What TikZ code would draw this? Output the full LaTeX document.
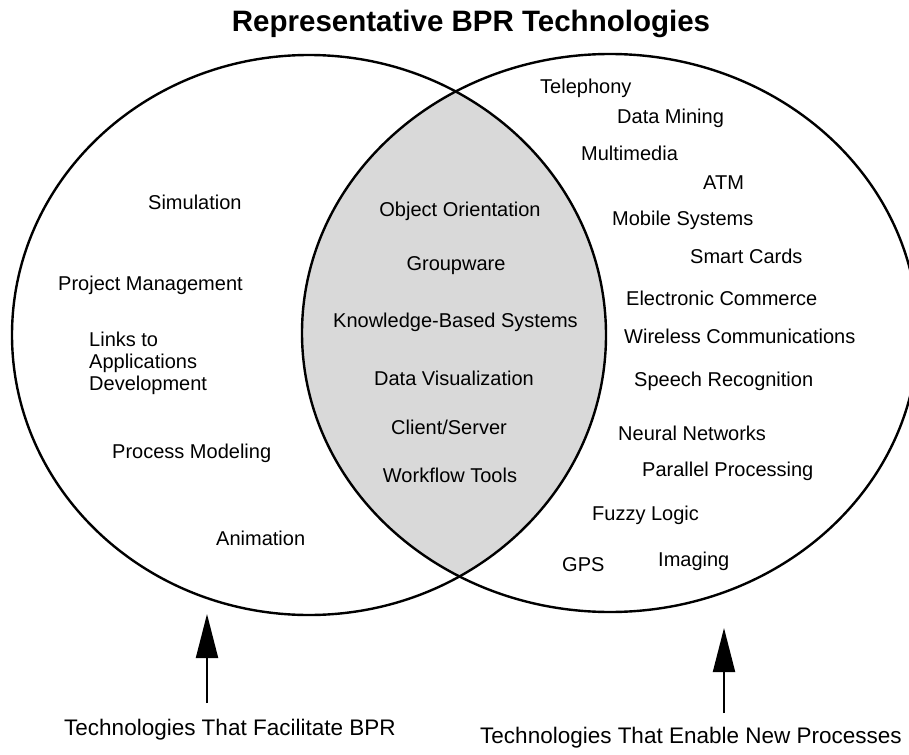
\documentclass[tikz,border=0pt]{standalone}
\usepackage{fontspec}
\setmainfont{Liberation Sans}
\usetikzlibrary{arrows.meta}
\begin{document}
\begin{tikzpicture}[x=1pt,y=-1pt,
  lbl/.style={font=\fontsize{20}{24}\selectfont, inner sep=0pt},
  big/.style={font=\fontsize{22.5}{27}\selectfont, inner sep=0pt},
  ttl/.style={font=\fontsize{29.5}{34}\selectfont\bfseries, inner sep=0pt},
  ring/.style={line width=2.4pt},
  uparrow/.style={line width=2pt, -{Triangle[length=44pt,width=22pt]}}]
\useasboundingbox (0,0) rectangle (909,754);
% lens fill
\begin{scope}
  \clip (309,335) ellipse [x radius=297, y radius=280];
  \fill[black!15] (610,333) ellipse [x radius=308, y radius=279];
\end{scope}
\draw[ring] (309,335) ellipse [x radius=297, y radius=280];
\draw[ring] (610,333) ellipse [x radius=308, y radius=279];
% title
\node[ttl] (title) at (471,24) {Representative BPR Technologies};
% left
\node[lbl, anchor=west] (sim) at (148,202) {Simulation};
\node[lbl, anchor=west] (pm) at (58,285) {Project Management};
\node[lbl, anchor=west, align=left, font=\fontsize{20}{22}\selectfont] (links) at (89,363) {Links to\\Applications\\Development};
\node[lbl, anchor=west] (procmod) at (112,453) {Process Modeling};
\node[lbl, anchor=west] (anim) at (216,538) {Animation};
% middle
\node[lbl] (oo) at (460,211) {Object Orientation};
\node[lbl] (gw) at (456,266) {Groupware};
\node[lbl, anchor=west] (kbs) at (333,322) {Knowledge-Based Systems};
\node[lbl] (dv) at (454,378) {Data Visualization};
\node[lbl] (cs) at (449,427) {Client/Server};
\node[lbl] (wf) at (450,475) {Workflow Tools};
% right
\node[lbl, anchor=west] (tel) at (540,88) {Telephony};
\node[lbl, anchor=west] (dm) at (617,118) {Data Mining};
\node[lbl, anchor=west] (mm) at (581,153) {Multimedia};
\node[lbl, anchor=west] (atm) at (703,183) {ATM};
\node[lbl, anchor=west] (mob) at (612,220) {Mobile Systems};
\node[lbl, anchor=west] (sc) at (690,256) {Smart Cards};
\node[lbl, anchor=west] (ec) at (626,298) {Electronic Commerce};
\node[lbl, anchor=west] (wc) at (624,336) {Wireless Communications};
\node[lbl, anchor=west] (sr) at (634,381) {Speech Recognition};
\node[lbl, anchor=west] (nn) at (618,433) {Neural Networks};
\node[lbl, anchor=west] (pp) at (642,471) {Parallel Processing};
\node[lbl, anchor=west] (fl) at (592,515) {Fuzzy Logic};
\node[lbl, anchor=west] (gps) at (562,565) {GPS};
\node[lbl, anchor=west] (img) at (658,561) {Imaging};
% bottom
\node[big, anchor=west] (fac) at (64,730) {Technologies That Facilitate BPR};
\node[big, anchor=west] (enb) at (480,738) {Technologies That Enable New Processes};
\coordinate (ltip) at (207,614);
\coordinate (rtip) at (724,628);
\draw[uparrow] (207,703) -- (ltip);
\draw[uparrow] (724,713) -- (rtip);
\end{tikzpicture}
\end{document}
